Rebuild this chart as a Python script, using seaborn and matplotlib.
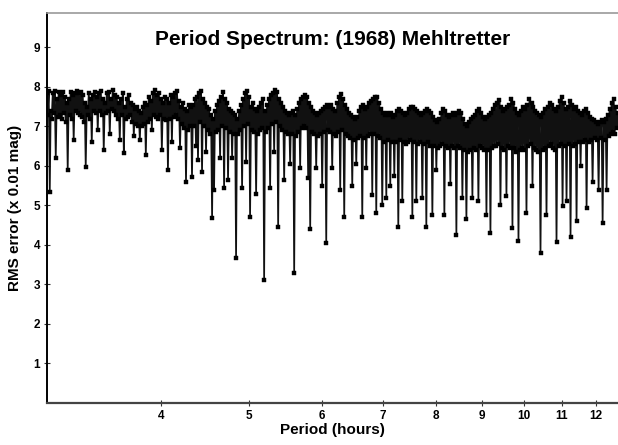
import numpy as np
import pandas as pd
import matplotlib
matplotlib.use("Agg")
import matplotlib.pyplot as plt
import matplotlib.ticker as mticker
import seaborn as sns

# ── Period spectrum: trial period (hours) and RMS (0.01 mag) ──
period_1 = [2.998, 3.005, 3.013, 3.021, 3.028, 3.036, 3.044, 3.051, 3.059, 3.067,
            3.075, 3.082, 3.090, 3.098, 3.106, 3.114, 3.122, 3.129, 3.137, 3.145,
            3.153, 3.161, 3.169, 3.177, 3.185, 3.193, 3.201, 3.209, 3.218, 3.226,
            3.234, 3.242, 3.250, 3.258, 3.267, 3.275, 3.283, 3.292, 3.300, 3.308,
            3.317, 3.325, 3.334, 3.342, 3.350, 3.359, 3.367, 3.376, 3.385, 3.393,
            3.402, 3.410, 3.419, 3.428, 3.436, 3.445, 3.454, 3.462, 3.471, 3.480,
            3.489, 3.497, 3.506, 3.515, 3.524, 3.533, 3.542, 3.551, 3.560, 3.569,
            3.578, 3.587, 3.596, 3.605, 3.614, 3.623, 3.633, 3.642, 3.651, 3.660,
            3.669, 3.679, 3.688, 3.697, 3.707, 3.716, 3.726, 3.735, 3.744, 3.754,
            3.763, 3.773, 3.782, 3.792, 3.802, 3.811, 3.821, 3.830, 3.840, 3.850]
rms_1 = [7.85, 7.30, 7.90, 5.35, 7.40, 7.20, 7.85, 7.35, 7.90, 6.20,
         7.70, 7.25, 7.88, 7.30, 7.80, 7.20, 7.88, 7.35, 7.75, 7.10,
         7.60, 5.90, 7.70, 7.30, 7.88, 7.20, 7.80, 6.66, 7.85, 7.40,
         7.90, 7.35, 7.85, 7.30, 7.88, 7.25, 7.80, 7.10, 7.60, 5.97,
         7.50, 7.30, 7.85, 7.20, 7.70, 6.60, 7.80, 7.40, 7.88, 7.35,
         7.75, 6.90, 7.85, 7.40, 7.90, 7.30, 7.70, 6.40, 7.60, 7.35,
         7.85, 7.40, 7.88, 6.80, 7.70, 7.45, 7.92, 7.40, 7.80, 7.30,
         7.75, 7.20, 7.60, 6.65, 7.70, 7.30, 7.85, 6.33, 7.50, 7.20,
         7.70, 7.25, 7.80, 7.30, 7.60, 7.10, 7.55, 6.75, 7.45, 7.05,
         7.50, 7.00, 7.40, 6.65, 7.35, 7.00, 7.50, 7.05, 7.60, 6.28]

period_2 = [3.860, 3.869, 3.879, 3.889, 3.899, 3.909, 3.919, 3.929, 3.939, 3.948,
            3.958, 3.968, 3.978, 3.988, 3.999, 4.009, 4.019, 4.029, 4.039, 4.050,
            4.061, 4.071, 4.081, 4.091, 4.102, 4.112, 4.122, 4.133, 4.143, 4.154,
            4.165, 4.176, 4.186, 4.197, 4.208, 4.218, 4.229, 4.240, 4.251, 4.261,
            4.272, 4.283, 4.294, 4.305, 4.315, 4.326, 4.337, 4.348, 4.359, 4.370,
            4.381, 4.392, 4.403, 4.415, 4.426, 4.437, 4.448, 4.459, 4.471, 4.482,
            4.493, 4.505, 4.516, 4.528, 4.539, 4.551, 4.562, 4.574, 4.585, 4.597,
            4.608, 4.620, 4.632, 4.644, 4.655, 4.667, 4.679, 4.691, 4.703, 4.715,
            4.726, 4.738, 4.750, 4.763, 4.775, 4.787, 4.799, 4.811, 4.823, 4.835,
            4.847, 4.860, 4.872, 4.884, 4.897, 4.909, 4.922, 4.934, 4.947, 4.959]
rms_2 = [7.55, 7.10, 7.75, 7.20, 7.65, 6.90, 7.85, 7.30, 7.92, 7.25,
         7.80, 7.20, 7.85, 7.30, 7.70, 6.40, 7.60, 7.20, 7.75, 7.15,
         7.70, 5.90, 7.60, 7.20, 7.80, 6.60, 7.75, 7.25, 7.85, 7.30,
         7.90, 7.20, 7.65, 6.45, 7.50, 7.05, 7.60, 6.95, 7.45, 5.60,
         7.40, 6.90, 7.55, 7.00, 7.50, 5.73, 7.55, 7.00, 7.70, 6.50,
         7.75, 6.15, 7.85, 7.10, 7.90, 5.85, 7.70, 7.00, 7.60, 6.35,
         7.50, 6.90, 7.45, 6.80, 7.30, 4.68, 7.20, 5.40, 7.40, 6.85,
         7.55, 6.90, 7.65, 6.20, 7.75, 7.00, 7.87, 5.44, 7.70, 6.95,
         7.60, 5.65, 7.45, 6.85, 7.40, 6.20, 7.35, 6.80, 7.30, 3.67,
         7.20, 6.80, 7.40, 6.90, 7.55, 5.44, 7.70, 7.00, 7.85, 6.10]

period_3 = [4.972, 4.984, 4.997, 5.009, 5.022, 5.035, 5.048, 5.060, 5.073, 5.086,
            5.099, 5.112, 5.125, 5.138, 5.151, 5.164, 5.177, 5.190, 5.203, 5.216,
            5.229, 5.243, 5.256, 5.269, 5.283, 5.296, 5.309, 5.323, 5.336, 5.350,
            5.363, 5.377, 5.390, 5.404, 5.418, 5.431, 5.445, 5.459, 5.473, 5.487,
            5.501, 5.514, 5.528, 5.542, 5.556, 5.570, 5.585, 5.599, 5.613, 5.627,
            5.641, 5.656, 5.670, 5.684, 5.699, 5.713, 5.728, 5.742, 5.757, 5.771,
            5.786, 5.800, 5.815, 5.830, 5.845, 5.859, 5.874, 5.889, 5.904, 5.919,
            5.934, 5.949, 5.964, 5.979, 5.994, 6.009, 6.025, 6.040, 6.055, 6.071,
            6.086, 6.101, 6.117, 6.132, 6.148, 6.163, 6.179, 6.195, 6.210, 6.226,
            6.242, 6.257, 6.273, 6.289, 6.305, 6.321, 6.337, 6.353, 6.369, 6.385]
rms_3 = [7.90, 7.05, 7.75, 4.70, 7.50, 6.90, 7.60, 6.85, 7.45, 5.30,
         7.40, 6.80, 7.50, 6.90, 7.60, 6.95, 7.70, 3.11, 7.40, 6.85,
         7.55, 6.95, 7.70, 5.44, 7.80, 7.05, 7.85, 6.35, 7.92, 7.10,
         7.87, 4.45, 7.70, 7.00, 7.60, 6.90, 7.50, 5.65, 7.40, 6.85,
         7.35, 6.80, 7.30, 6.05, 7.35, 6.80, 7.40, 3.30, 7.30, 6.75,
         7.45, 6.85, 7.60, 5.95, 7.70, 6.95, 7.75, 7.00, 7.80, 6.95,
         7.75, 5.70, 7.60, 4.40, 7.50, 6.85, 7.40, 6.80, 7.35, 5.95,
         7.30, 6.75, 7.35, 6.80, 7.40, 5.50, 7.45, 6.85, 7.50, 4.05,
         7.55, 6.90, 7.50, 6.85, 7.55, 5.95, 7.45, 6.80, 7.40, 6.75,
         7.60, 6.85, 7.75, 5.40, 7.83, 6.90, 7.70, 4.70, 7.55, 6.80]

period_4 = [6.401, 6.418, 6.434, 6.450, 6.466, 6.483, 6.499, 6.516, 6.532, 6.549,
            6.565, 6.582, 6.599, 6.615, 6.632, 6.649, 6.666, 6.683, 6.699, 6.716,
            6.733, 6.750, 6.768, 6.785, 6.802, 6.819, 6.836, 6.854, 6.871, 6.888,
            6.906, 6.923, 6.941, 6.958, 6.976, 6.993, 7.011, 7.029, 7.047, 7.065,
            7.082, 7.100, 7.118, 7.136, 7.154, 7.172, 7.191, 7.209, 7.227, 7.246,
            7.264, 7.282, 7.301, 7.319, 7.338, 7.356, 7.375, 7.394, 7.412, 7.431,
            7.450, 7.469, 7.488, 7.507, 7.526, 7.545, 7.564, 7.583, 7.602, 7.621,
            7.640, 7.660, 7.679, 7.699, 7.718, 7.738, 7.757, 7.777, 7.797, 7.816,
            7.836, 7.856, 7.876, 7.896, 7.916, 7.936, 7.956, 7.976, 7.996, 8.016,
            8.037, 8.057, 8.077, 8.098, 8.118, 8.139, 8.160, 8.180, 8.201, 8.222]
rms_4 = [7.45, 6.75, 7.35, 6.70, 7.30, 5.50, 7.25, 6.65, 7.20, 6.05,
         7.25, 6.70, 7.40, 6.75, 7.50, 4.70, 7.55, 6.70, 7.45, 5.95,
         7.50, 6.75, 7.60, 6.80, 7.65, 5.27, 7.70, 6.80, 7.75, 4.80,
         7.75, 6.75, 7.60, 6.70, 7.45, 5.00, 7.35, 6.60, 7.30, 5.20,
         7.35, 6.65, 7.30, 5.50, 7.35, 6.60, 7.25, 5.75, 7.30, 6.60,
         7.40, 4.45, 7.45, 6.65, 7.40, 5.10, 7.35, 6.60, 7.30, 6.55,
         7.35, 6.60, 7.45, 6.65, 7.50, 4.70, 7.50, 6.60, 7.45, 5.10,
         7.40, 6.55, 7.35, 6.60, 7.30, 5.20, 7.35, 6.55, 7.40, 4.45,
         7.45, 6.60, 7.40, 6.50, 7.35, 4.75, 7.25, 6.50, 7.15, 5.90,
         7.10, 6.45, 7.20, 6.50, 7.35, 6.55, 7.45, 4.75, 7.40, 6.50]

period_5 = [8.242, 8.263, 8.284, 8.305, 8.326, 8.347, 8.369, 8.390, 8.411, 8.432,
            8.453, 8.475, 8.496, 8.518, 8.539, 8.561, 8.583, 8.604, 8.626, 8.648,
            8.670, 8.692, 8.714, 8.736, 8.758, 8.780, 8.802, 8.825, 8.847, 8.869,
            8.892, 8.914, 8.937, 8.960, 8.982, 9.005, 9.028, 9.051, 9.074, 9.097,
            9.119, 9.143, 9.166, 9.189, 9.212, 9.236, 9.259, 9.283, 9.306, 9.330,
            9.353, 9.377, 9.400, 9.424, 9.448, 9.472, 9.496, 9.520, 9.544, 9.568,
            9.592, 9.616, 9.641, 9.665, 9.690, 9.714, 9.739, 9.764, 9.789, 9.813,
            9.838, 9.863, 9.888, 9.913, 9.938, 9.963, 9.988, 10.014, 10.039, 10.064,
            10.090, 10.115, 10.141, 10.167, 10.193, 10.218, 10.244, 10.270, 10.296, 10.322,
            10.348, 10.374, 10.400, 10.427, 10.453, 10.480, 10.506, 10.533, 10.559, 10.586]
rms_5 = [7.30, 6.45, 7.25, 5.55, 7.30, 6.50, 7.35, 6.45, 7.30, 4.25,
         7.35, 6.50, 7.40, 6.45, 7.35, 5.20, 7.20, 6.40, 7.05, 4.65,
         7.00, 6.35, 7.10, 6.40, 7.20, 5.20, 7.25, 6.45, 7.30, 6.40,
         7.40, 5.10, 7.45, 6.50, 7.35, 6.45, 7.25, 6.40, 7.20, 4.75,
         7.25, 6.40, 7.30, 4.30, 7.35, 6.45, 7.45, 6.50, 7.55, 6.50,
         7.60, 6.55, 7.67, 5.00, 7.50, 6.45, 7.40, 6.40, 7.45, 5.25,
         7.50, 6.50, 7.55, 6.45, 7.70, 4.43, 7.60, 6.45, 7.45, 6.35,
         7.35, 4.10, 7.30, 6.40, 7.40, 6.45, 7.50, 6.40, 7.45, 4.80,
         7.55, 6.50, 7.70, 6.55, 7.60, 5.50, 7.50, 6.45, 7.40, 6.40,
         7.35, 6.35, 7.30, 3.80, 7.25, 6.40, 7.35, 6.45, 7.45, 4.75]

period_6 = [10.613, 10.640, 10.667, 10.694, 10.721, 10.748, 10.775, 10.803, 10.830, 10.857,
            10.885, 10.913, 10.940, 10.968, 10.996, 11.024, 11.051, 11.079, 11.107, 11.135,
            11.163, 11.192, 11.220, 11.248, 11.277, 11.305, 11.334, 11.363, 11.392, 11.420,
            11.449, 11.478, 11.507, 11.537, 11.566, 11.595, 11.625, 11.654, 11.684, 11.713,
            11.742, 11.772, 11.802, 11.832, 11.862, 11.892, 11.922, 11.952, 11.983, 12.013,
            12.043, 12.074, 12.104, 12.135, 12.166, 12.197, 12.228, 12.259, 12.290, 12.320,
            12.351, 12.383, 12.414, 12.446, 12.477, 12.509, 12.540, 12.572, 12.604, 12.636,
            12.667]
rms_6 = [7.50, 6.50, 7.60, 6.55, 7.55, 6.45, 7.45, 6.40, 7.40, 4.08,
         7.50, 6.50, 7.65, 6.55, 7.75, 4.98, 7.60, 6.50, 7.45, 5.10,
         7.50, 6.55, 7.65, 4.20, 7.55, 6.50, 7.45, 6.55, 7.50, 4.60,
         7.40, 6.60, 7.35, 6.00, 7.30, 6.60, 7.40, 6.65, 7.45, 4.93,
         7.35, 6.60, 7.25, 6.65, 7.20, 5.60, 7.15, 6.70, 7.10, 6.65,
         7.05, 5.40, 7.10, 6.70, 7.15, 4.55, 7.10, 6.65, 7.20, 5.40,
         7.30, 6.75, 7.45, 6.80, 7.60, 6.85, 7.70, 6.80, 7.50, 6.95,
         7.35]

X_TICKS = [4, 5, 6, 7, 8, 9, 10, 11, 12]
Y_TICKS = [1, 2, 3, 4, 5, 6, 7, 8, 9]

df = pd.DataFrame({
    "period": period_1 + period_2 + period_3 + period_4 + period_5 + period_6,
    "rms": rms_1 + rms_2 + rms_3 + rms_4 + rms_5 + rms_6,
})

# ── Plot ─────────────────────────────────────────────────────────────────────
sns.set_theme(style="white")
plt.rcParams["font.family"] = ["Liberation Sans", "DejaVu Sans"]
plt.rcParams["text.color"] = "black"
plt.rcParams["axes.labelcolor"] = "black"

fig = plt.figure(figsize=(6.18, 4.45), dpi=100)
ax = fig.add_axes([47 / 618, 42 / 445, 571 / 618, 390 / 445])

sns.lineplot(data=df, x="period", y="rms", sort=False, estimator=None,
             color="#111111", linewidth=1.25, marker="s", markersize=2.4,
             markerfacecolor="black", markeredgecolor="black",
             markeredgewidth=0.3, ax=ax)

ax.set_xscale("log")
ax.set_xlim(3.0, 12.68)
ax.set_ylim(0, 9.87)
ax.xaxis.set_major_locator(mticker.FixedLocator(X_TICKS))
ax.xaxis.set_major_formatter(mticker.FixedFormatter([str(t) for t in X_TICKS]))
ax.xaxis.set_minor_locator(mticker.NullLocator())
ax.set_yticks(Y_TICKS)

ax.tick_params(axis="both", direction="inout", length=4, width=0.8,
               colors="#333333", labelcolor="black", labelsize=8.5, pad=3,
               bottom=True, left=True)
for lab in ax.get_xticklabels() + ax.get_yticklabels():
    lab.set_fontweight("bold")

ax.set_xlabel("Period (hours)", fontsize=11, fontweight="bold", labelpad=1)
ax.set_ylabel("RMS error (x 0.01 mag)", fontsize=11, fontweight="bold", labelpad=8)

ax.text(0.5, 0.931, "Period Spectrum: (1968) Mehltretter", transform=ax.transAxes,
        ha="center", va="center", fontsize=15, fontweight="bold")

ax.spines["left"].set_color("black")
ax.spines["left"].set_linewidth(1.4)
ax.spines["bottom"].set_color("#444444")
ax.spines["bottom"].set_linewidth(1.6)
ax.spines["top"].set_color("#9a9a9a")
ax.spines["top"].set_linewidth(1.2)
ax.spines["right"].set_visible(False)

fig.savefig("out.png", dpi=100)
plt.close(fig)
